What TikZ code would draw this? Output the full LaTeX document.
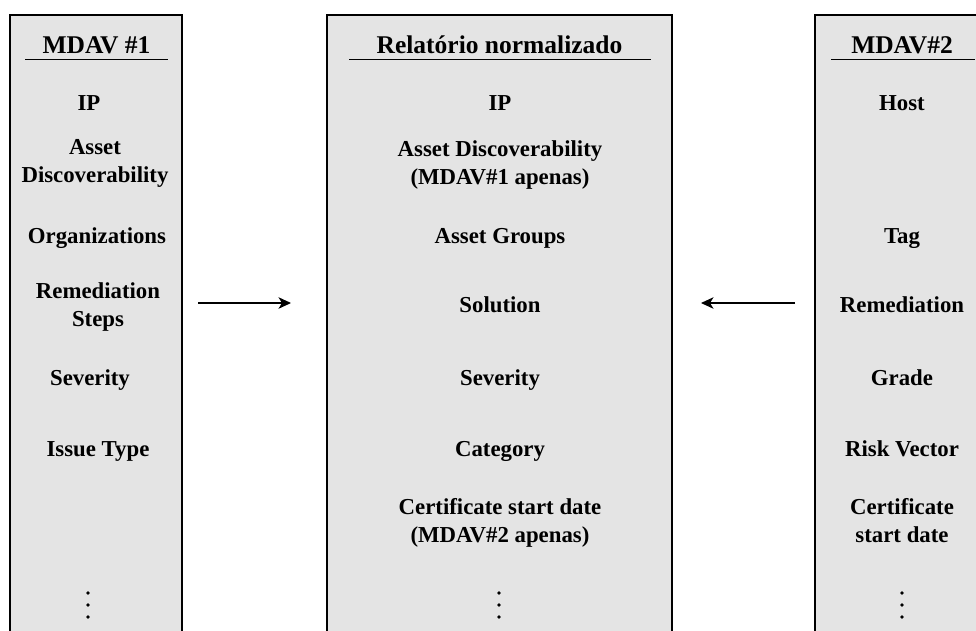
\documentclass[tikz,border=0pt]{standalone}
\usepackage{fontspec}
\setmainfont{Liberation Serif}
\usetikzlibrary{arrows.meta}
\definecolor{panelgray}{HTML}{E4E4E4}
\begin{document}
\begin{tikzpicture}[x=1pt,y=-1pt,
  panel/.style={fill=panelgray, draw=black, line width=2.4pt, line join=miter},
  cell/.style={font=\fontsize{22.8}{27.5}\selectfont\bfseries, align=center, inner sep=0pt, anchor=base},
  head/.style={font=\fontsize{25.5}{30}\selectfont\bfseries, inner sep=0pt, anchor=base},
  headrule/.style={line width=1pt},
  flow/.style={line width=1.1pt, -{Stealth[length=12.5pt,width=11.5pt,inset=3.5pt]}},
  dot/.style={circle, fill=black, inner sep=0pt, minimum size=3.8pt}]
\useasboundingbox (0,0) rectangle (976,630);
\begin{scope}
\clip (0,0) rectangle (976,630);
% three open-bottom panels
\path[panel] (10,650) -- (10,15) -- (182,15) -- (182,650);
\path[panel] (327,650) -- (327,15) -- (672,15) -- (672,650);
\path[panel] (815,650) -- (815,15) -- (989,15) -- (989,650);

% left panel: MDAV #1 (two-line cells are placed by their last baseline)
\node[head] (lt) at (96.5,53) {MDAV \#1};
\draw[headrule] (25,59) -- (168,59);
\node[cell] (l1) at (89,110) {IP};
\node[cell] (l2) at (95,182) {Asset\\Discoverability};
\node[cell] (l3) at (97,243) {Organizations};
\node[cell] (l4) at (98,326) {Remediation\\Steps};
\node[cell] (l5) at (90,385) {Severity};
\node[cell] (l6) at (98,456) {Issue Type};
\node[dot] (ld1) at (88,593) {};
\node[dot] (ld2) at (88,605) {};
\node[dot] (ld3) at (88,617) {};

% middle panel: normalized report
\node[head] (mt) at (499.5,53) {Relatório normalizado};
\draw[headrule] (349,59) -- (651,59);
\node[cell] (m1) at (500,110) {IP};
\node[cell] (m2) at (500,184) {Asset Discoverability\\(MDAV\#1 apenas)};
\node[cell] (m3) at (500,243) {Asset Groups};
\node[cell] (m4) at (500,312) {Solution};
\node[cell] (m5) at (500,385) {Severity};
\node[cell] (m6) at (500,456) {Category};
\node[cell] (m7) at (500,542) {Certificate start date\\(MDAV\#2 apenas)};
\node[dot] (md1) at (499,593) {};
\node[dot] (md2) at (499,605) {};
\node[dot] (md3) at (499,617) {};

% right panel: MDAV#2
\node[head] (rt) at (902,53) {MDAV\#2};
\draw[headrule] (831,59) -- (975,59);
\node[cell] (r1) at (902,110) {Host};
\node[cell] (r3) at (902,243) {Tag};
\node[cell] (r4) at (902,312) {Remediation};
\node[cell] (r5) at (902,385) {Grade};
\node[cell] (r6) at (902,456) {Risk Vector};
\node[cell] (r7) at (902,542) {Certificate\\start date};
\node[dot] (rd1) at (902,593) {};
\node[dot] (rd2) at (902,605) {};
\node[dot] (rd3) at (902,617) {};
\end{scope}

% flows into the normalized report
\coordinate (lsrc) at (198,303);
\coordinate (ldst) at (291,303);
\coordinate (rsrc) at (795,303);
\coordinate (rdst) at (701,303);
\draw[flow] (lsrc) -- (ldst);
\draw[flow] (rsrc) -- (rdst);
\end{tikzpicture}
\end{document}
